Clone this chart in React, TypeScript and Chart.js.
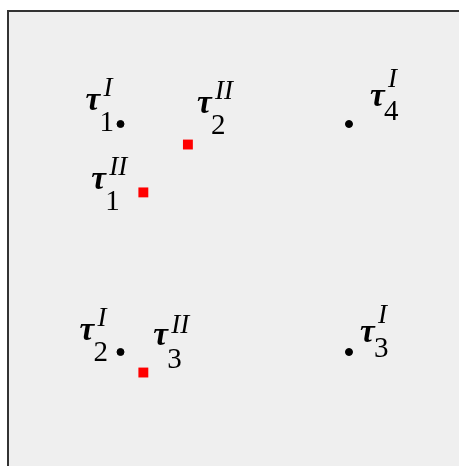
import React, { useEffect, useRef } from "react";
import { Chart, registerables } from "chart.js";

Chart.register(...registerables);

// Data
const blackX = [1, 3, 1, 3];
const blackY = [1, 1, 3, 3];
const blackSub = ["1", "4", "2", "3"];
const blackSup = "I";

const redX = [1.2, 1.59, 1.2];
const redY = [1.6, 1.18, 3.18];
const redSub = ["1", "2", "3"];
const redSup = "II";

// Label layout: [τ dx, τ dy, subscript dy, superscript dy]
const blackLabelLayout = [[-35, -14, 21, -14], [21, -18, 14, -19], [-41, -12, 21, -14], [11, -10, 15, -19]];
const redLabelLayout = [[-52, -3, 21, -14], [9, -32, 21, -14], [10, -28, 23, -12]];

const labelPlugin = {
  id: "tauLabels",
  afterDatasetsDraw(chart: any) {
    const ctx = chart.ctx;
    ctx.save();
    ctx.fillStyle = "#000";
    ctx.textBaseline = "alphabetic";
    ctx.textAlign = "left";
    chart.data.datasets.forEach((ds: any, di: number) => {
      const meta = chart.getDatasetMeta(di);
      meta.data.forEach((el: any, i: number) => {
        const lay = ds.labelLayout[i];
        const tx = el.x + lay[0];
        const ty = el.y + lay[1];
        ctx.font = "italic bold 33px 'Liberation Serif', serif";
        ctx.fillText("τ", tx, ty);
        ctx.font = "29px 'Liberation Serif', serif";
        ctx.fillText(ds.subs[i], tx + 14, ty + lay[2]);
        ctx.font = "italic 27px 'Liberation Serif', serif";
        ctx.fillText(ds.sup, tx + 18, ty + lay[3]);
      });
    });
    ctx.restore();
  },
};

export default function App() {
  const ref = useRef<HTMLCanvasElement>(null);
  useEffect(() => {
    if (!ref.current) return;
    const chart = new Chart(ref.current, {
      type: "scatter",
      data: {
        datasets: [
          {
            data: blackX.map((x, i) => ({ x, y: blackY[i] })),
            backgroundColor: "#000",
            borderColor: "#000",
            pointRadius: 3.5,
            pointStyle: "circle",
            subs: blackSub,
            sup: blackSup,
            labelLayout: blackLabelLayout,
          } as any,
          {
            data: redX.map((x, i) => ({ x, y: redY[i] })),
            backgroundColor: "#ff0000",
            borderColor: "#ff0000",
            borderWidth: 0,
            pointRadius: 7,
            pointStyle: "rect",
            subs: redSub,
            sup: redSup,
            labelLayout: redLabelLayout,
          } as any,
        ],
      },
      options: {
        animation: false,
        responsive: false,
        maintainAspectRatio: false,
        layout: { padding: 0, autoPadding: false },
        plugins: { legend: { display: false }, tooltip: { enabled: false } },
        scales: {
          x: { type: "linear", min: 0.024, max: 3.963, display: false },
          y: { type: "linear", min: 0.0175, max: 4.0, reverse: true, display: false },
        },
      },
      plugins: [labelPlugin],
    });
    return () => chart.destroy();
  }, []);
  return (
    <div
      style={{
        position: "fixed",
        left: 7,
        top: 10,
        width: 450,
        height: 454,
        borderTop: "2px solid #333",
        borderLeft: "2px solid #333",
        background: "#efefef",
      }}
    >
      <canvas ref={ref} width={450} height={454} style={{ display: "block" }} />
    </div>
  );
}
